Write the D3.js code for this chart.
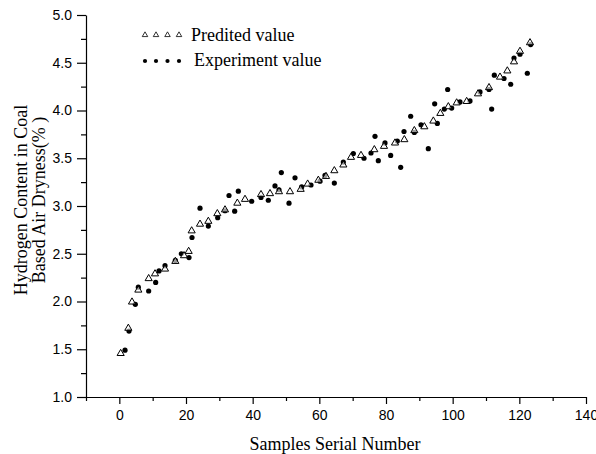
<!DOCTYPE html>
<html>
<head>
<meta charset="utf-8">
<script src="https://cdn.jsdelivr.net/npm/d3@7"></script>
<style>
  body { margin: 0; background: #fff; }
  .tick text { font-family: "Liberation Sans", Arial, sans-serif; font-size: 14px; fill: #000; }
  .title { font-family: "Liberation Serif", "Times New Roman", serif; font-size: 18px; fill: #000; }
</style>
</head>
<body>
<div id="chart"></div>
<script>
// predicted values (triangles)
const predX = [0.4, 2.7, 3.8, 5.7, 8.8, 10.7, 13.7, 16.8, 19.4, 20.8, 21.7, 24.2, 26.7, 29.4, 31.7, 35.4,
  37.7, 42.5, 45.2, 47.9, 51.2, 54.4, 56.5, 59.7, 62.0, 64.5, 67.2, 69.5, 72.5, 76.5, 79.4, 82.7,
  85.5, 88.5, 91.5, 94.2, 96.3, 98.7, 101.2, 104.2, 107.6, 110.9, 114.2, 116.4, 118.4, 120.2, 123.2];
const predY = [1.456, 1.72, 1.995, 2.12, 2.24, 2.29, 2.34, 2.42, 2.48, 2.525, 2.74, 2.81, 2.84, 2.92, 2.96, 3.03,
  3.07, 3.12, 3.13, 3.15, 3.15, 3.175, 3.23, 3.27, 3.31, 3.37, 3.43, 3.51, 3.53, 3.59, 3.625, 3.66,
  3.695, 3.79, 3.83, 3.89, 3.97, 4.04, 4.08, 4.095, 4.175, 4.24, 4.35, 4.415, 4.51, 4.62, 4.71];

// experiment values (dots)
const expX = [1.7, 2.9, 4.8, 5.7, 8.8, 10.9, 11.9, 13.7, 16.8, 18.6, 20.9, 21.8, 24.2, 26.7, 29.5, 31.7,
  32.9, 34.6, 35.7, 39.7, 42.5, 44.7, 46.7, 47.9, 48.6, 50.9, 52.7, 54.7, 57.5, 60.2, 61.7, 64.5,
  67.2, 70.2, 73.4, 75.5, 76.7, 77.7, 79.7, 81.4, 83.4, 84.4, 85.4, 87.4, 88.5, 90.5, 92.7, 94.6,
  95.4, 97.5, 98.5, 99.7, 102.2, 105.2, 108.2, 110.9, 111.7, 112.5, 115.4, 117.4, 118.4, 120.2, 122.4, 123.4];
const expY = [1.49, 1.69, 1.97, 2.15, 2.11, 2.20, 2.32, 2.375, 2.43, 2.50, 2.46, 2.67, 2.977, 2.79, 2.877, 2.95,
  3.11, 2.946, 3.155, 3.05, 3.09, 3.06, 3.21, 3.17, 3.35, 3.03, 3.295, 3.20, 3.22, 3.26, 3.32, 3.24,
  3.46, 3.55, 3.50, 3.555, 3.73, 3.475, 3.66, 3.53, 3.68, 3.405, 3.78, 3.94, 3.77, 3.85, 3.60, 4.07,
  3.865, 4.015, 4.22, 4.025, 4.09, 4.10, 4.195, 4.22, 4.015, 4.37, 4.335, 4.275, 4.55, 4.59, 4.39, 4.69];

const xMajor = [0, 20, 40, 60, 80, 100, 120, 140];
const xMinor = [-10, 10, 30, 50, 70, 90, 110, 130];
const yMajor = [1.0, 1.5, 2.0, 2.5, 3.0, 3.5, 4.0, 4.5, 5.0];
const yMinor = [1.25, 1.75, 2.25, 2.75, 3.25, 3.75, 4.25, 4.75];

const width = 596, height = 454;
const margin = {top: 15, left: 86, bottom: 57, right: 10};

const svg = d3.select("#chart").append("svg")
    .attr("width", width)
    .attr("height", height);

const xScale = d3.scaleLinear().domain([-10, 140]).range([margin.left, margin.left + 500]);
const yScale = d3.scaleLinear().domain([1, 5]).range([height - margin.bottom, margin.top]);

const plotBottom = height - margin.bottom;

// minor ticks first
svg.append('g')
    .attr("transform", "translate(0," + plotBottom + ")")
    .call(d3.axisBottom(xScale).tickValues(xMinor).tickSize(4).tickFormat(""))
    .call(g => g.select(".domain").remove());

svg.append('g')
    .attr("transform", "translate(" + margin.left + ",0)")
    .call(d3.axisLeft(yScale).tickValues(yMinor).tickSize(5).tickFormat(""))
    .call(g => g.select(".domain").remove());

svg.append('g')
    .attr("class", 'axis_x')
    .attr("transform", "translate(0," + plotBottom + ")")
    .call(d3.axisBottom(xScale).tickValues(xMajor).tickSize(7).tickSizeOuter(0).tickPadding(6).tickFormat(d3.format("d")));

svg.append('g')
    .attr("class", 'axis_y')
    .attr("transform", "translate(" + margin.left + ",0)")
    .call(d3.axisLeft(yScale).tickValues(yMajor).tickSize(9).tickSizeOuter(0).tickPadding(5).tickFormat(d3.format(".1f")));

svg.selectAll(".domain, .tick line").attr("stroke", "#000").attr("stroke-width", 1.2);

// axis titles
svg.append('text')
    .attr("class", 'title')
    .attr("x", 335)
    .attr("y", 450)
    .attr("text-anchor", "middle")
    .text("Samples Serial Number");

const yTitle = svg.append('text')
    .attr("class", 'title')
    .attr("transform", "translate(0,200) rotate(-90)")
    .attr("text-anchor", "middle");
yTitle.append('tspan').attr("x", 0).attr("y", 27).text("Hydrogen Content in Coal");
yTitle.append('tspan').attr("x", 0).attr("y", 45).text("Based Air Dryness(% )");

// points
const tri = d3.symbol().type(d3.symbolTriangle).size(22);

svg.append('g').selectAll("circle")
    .data(expX.map((x, i) => ({x: x, y: expY[i]})))
    .enter()
    .append("circle")
    .attr("cx", d => xScale(d.x))
    .attr("cy", d => yScale(d.y))
    .attr("r", 2.6)
    .attr("fill", "#000");

svg.append('g').selectAll("path")
    .data(predX.map((x, i) => ({x: x, y: predY[i]})))
    .enter()
    .append("path")
    .attr("d", tri)
    .attr("transform", d => "translate(" + xScale(d.x) + "," + yScale(d.y) + ")")
    .attr("fill", "#fff")
    .attr("fill-opacity", 0.6)
    .attr("stroke", "#000")
    .attr("stroke-width", 1);

// legend
const legend = svg.append('g');
const legTri = d3.symbol().type(d3.symbolTriangle).size(13);
[145, 156, 167.5, 179].forEach(function (x) {
    legend.append("path")
        .attr("d", legTri)
        .attr("transform", "translate(" + x + ",35)")
        .attr("fill", "none")
        .attr("stroke", "#000")
        .attr("stroke-width", 0.8);
    legend.append("circle")
        .attr("cx", x)
        .attr("cy", 61)
        .attr("r", 2.1)
        .attr("fill", "#000");
});
legend.append('text').attr("class", 'title').attr("x", 191).attr("y", 41).text("Predited value");
legend.append('text').attr("class", 'title').attr("x", 194).attr("y", 66).text("Experiment value");
</script>
</body>
</html>
